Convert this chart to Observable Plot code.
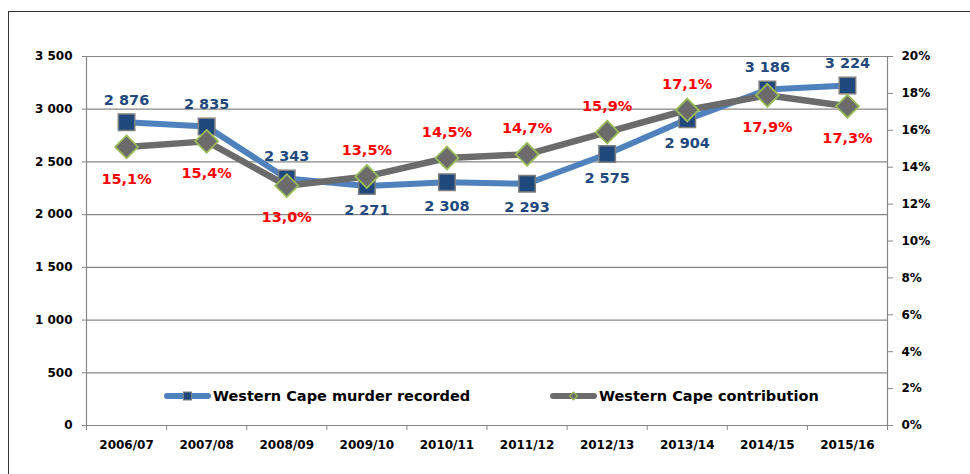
<!DOCTYPE html>
<html>
<head>
<meta charset="utf-8">
<script src="https://cdn.jsdelivr.net/npm/d3@7"></script>
<script src="https://cdn.jsdelivr.net/npm/@observablehq/plot@0.6"></script>
<style>
  html, body { margin: 0; padding: 0; background: #fff; }
  #wrap { position: relative; width: 970px; height: 474px; overflow: hidden; font-family: "DejaVu Sans", sans-serif; }
  #frame { position: absolute; left: 8px; top: 11px; width: 1000px; height: 520px; border: 1.5px solid #333; box-sizing: border-box; }
  #chart { position: absolute; left: 0; top: 0; }
  .leg { position: absolute; display: flex; align-items: center; font-weight: bold; font-size: 14.5px; color: #000; white-space: nowrap; }
  .leg svg { margin-right: 2px; }
</style>
</head>
<body>
<div id="wrap">
  <div id="frame"></div>
  <div id="chart"></div>
  <div class="leg" style="left:164px; top:387px;">
    <svg width="47" height="18"><line x1="3" y1="9" x2="44" y2="9" stroke="#4F81BD" stroke-width="6" stroke-linecap="round"/><rect x="19.5" y="5" width="8" height="8" fill="#1F497D" stroke="#7F7F7F" stroke-width="1"/></svg>
    <span>Western Cape murder recorded</span>
  </div>
  <div class="leg" style="left:550px; top:387px;">
    <svg width="47" height="18"><line x1="3" y1="9" x2="44" y2="9" stroke="#6B6B6B" stroke-width="6" stroke-linecap="round"/><path d="M23.5 5 L27.5 9 L23.5 13 L19.5 9 Z" fill="#6B6B6B" stroke="#9BBB59" stroke-width="1.2"/></svg>
    <span>Western Cape contribution</span>
  </div>
</div>
<script>
const categories = ["2006/07","2007/08","2008/09","2009/10","2010/11","2011/12","2012/13","2013/14","2014/15","2015/16"];
const murders = [2876, 2835, 2343, 2271, 2308, 2293, 2575, 2904, 3186, 3224];
const contribution = [15.1, 15.4, 13.0, 13.5, 14.5, 14.7, 15.9, 17.1, 17.9, 17.3];
// label placement: true = murder label above the marker (percentage label below)
const murderAbove = [true, true, true, false, false, false, false, false, true, true];
const leftTicks = [0, 500, 1000, 1500, 2000, 2500, 3000, 3500];
const rightTicks = [0, 2, 4, 6, 8, 10, 12, 14, 16, 18, 20];

const yMax = 3500, pMax = 20;
const toY = p => p / pMax * yMax;

const rows = categories.map((c, i) => ({
  i, c, m: murders[i], p: contribution[i], py: toY(contribution[i]), above: murderAbove[i]
}));

const fmtN = v => d3.format(",")(v).replace(/,/g, " ");
const fmtP = v => v.toFixed(1).replace(".", ",") + "%";

const blue = "#4F81BD", navy = "#1F497D", gray = "#6B6B6B", green = "#9BBB59", axisC = "#868686";
const lblSize = 14.5;

const chart = Plot.plot({
  width: 970,
  height: 474,
  marginLeft: 86,
  marginRight: 83,
  marginTop: 56,
  marginBottom: 49,
  style: { fontFamily: "DejaVu Sans, sans-serif", fontWeight: "bold", fontSize: "12px", color: "#000", background: "transparent" },
  x: { type: "linear", domain: [-0.5, categories.length - 0.5], axis: null, label: null },
  y: { domain: [0, yMax], axis: null, label: null },
  marks: [
    Plot.gridY(leftTicks.filter(d => d > 0), { stroke: axisC, strokeOpacity: 1, strokeWidth: 1.2 }),
    Plot.ruleY([0], { stroke: axisC, strokeWidth: 1.2 }),
    Plot.ruleX([-0.5, categories.length - 0.5], { stroke: axisC, strokeWidth: 1.2 }),
    Plot.axisY({ ticks: leftTicks, tickSize: 4, tickPadding: 10, stroke: axisC, tickFormat: fmtN, fill: "#000", label: null }),
    Plot.axisY({ anchor: "right", ticks: rightTicks.map(toY), tickSize: 5, tickPadding: 9, stroke: axisC, tickFormat: d => Math.round(d / yMax * pMax) + "%", fill: "#000", label: null }),
    Plot.axisX({ ticks: d3.range(-0.5, categories.length, 1), tickSize: 5, stroke: axisC, tickFormat: () => "", label: null }),
    Plot.axisX({ ticks: d3.range(0, categories.length), tickSize: 0, tickPadding: 15, tickFormat: i => categories[i], fill: "#000", label: null }),
    Plot.line(rows, { x: "i", y: "m", stroke: blue, strokeWidth: 6 }),
    Plot.dot(rows, { x: "i", y: "m", symbol: "square", r: 9.3, fill: navy, stroke: "#7F7F7F", strokeWidth: 1.5 }),
    Plot.line(rows, { x: "i", y: "py", stroke: gray, strokeWidth: 6.5 }),
    Plot.dot(rows, { x: "i", y: "py", symbol: "diamond2", r: 10.3, fill: gray, stroke: green, strokeWidth: 1.8 }),
    Plot.text(rows.filter(d => d.above), { x: "i", y: "m", text: d => fmtN(d.m), dy: -22, fill: navy, fontSize: lblSize, fontWeight: "bold" }),
    Plot.text(rows.filter(d => !d.above), { x: "i", y: "m", text: d => fmtN(d.m), dy: 24, fill: navy, fontSize: lblSize, fontWeight: "bold" }),
    Plot.text(rows.filter(d => d.above), { x: "i", y: "py", text: d => fmtP(d.p), dy: 32, fill: "#FF0000", fontSize: lblSize, fontWeight: "bold" }),
    Plot.text(rows.filter(d => !d.above), { x: "i", y: "py", text: d => fmtP(d.p), dy: -26, fill: "#FF0000", fontSize: lblSize, fontWeight: "bold" })
  ]
});
document.getElementById("chart").appendChild(chart);
</script>
</body>
</html>
